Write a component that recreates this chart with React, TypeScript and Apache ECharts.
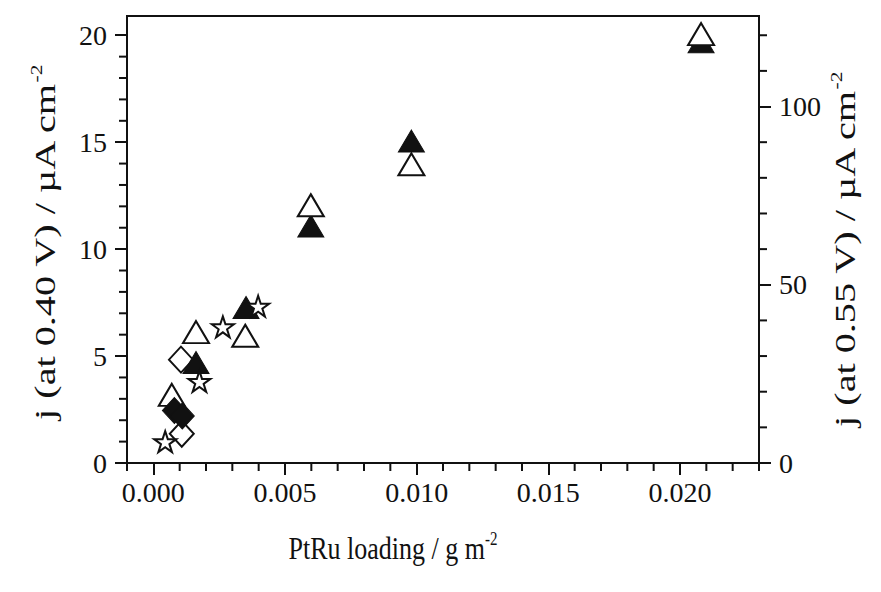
import React, { useEffect, useRef } from "react";
import * as echarts from "echarts";

// PtRu loading (g m^-2) and current densities
const filledTriangleLoading = [0.00162, 0.00352, 0.00598, 0.0098, 0.0208];
const filledTriangleJ040 = [4.7, 7.27, 11.08, 15.05, 19.7];

const openTriangleLoading = [0.0007, 0.00162, 0.00349, 0.00598, 0.0098, 0.0208];
const openTriangleJ055 = [19.1, 36.7, 35.7, 72.3, 83.8, 120.3];

const openDiamondLoading = [0.00105, 0.00108];
const openDiamondJ055 = [29.0, 8.2];

const filledDiamondLoading = [0.0008, 0.0011];
const filledDiamondJ040 = [2.45, 2.2];

const starLoading = [0.00045, 0.00175, 0.00264, 0.00398];
const starJ055 = [6.0, 22.9, 38.2, 44.0];

// labelled major ticks
const xMajorTicks = [0, 0.005, 0.01, 0.015, 0.02];
const leftMajorTicks = [0, 5, 10, 15, 20];
const rightMajorTicks = [0, 50, 100];
// minor ticks
const xMinorTicks = [
  -0.001, 0.001, 0.002, 0.003, 0.004, 0.006, 0.007, 0.008, 0.009, 0.011, 0.012,
  0.013, 0.014, 0.016, 0.017, 0.018, 0.019, 0.021, 0.022, 0.023,
];
const leftMinorTicks = [1, 2, 3, 4, 6, 7, 8, 9, 11, 12, 13, 14, 16, 17, 18, 19];
const rightMinorTicks = [10, 20, 30, 40, 60, 70, 80, 90, 110, 120];

const FONT = "Liberation Serif";
const INK = "#111111";

const STAR =
  "path://M0,-1L0.2245,-0.309L0.951,-0.309L0.363,0.118L0.588,0.809L0,0.382L-0.588,0.809L-0.363,0.118L-0.951,-0.309L-0.2245,-0.309Z";

const pairs = (xs: number[], ys: number[]) => xs.map((x, i) => [x, ys[i]]);

export default function App() {
  const ref = useRef<HTMLDivElement>(null);
  useEffect(() => {
    if (!ref.current) return;
    const chart = echarts.init(ref.current, undefined, { renderer: "svg" });
    const X_MIN = -0.001;
    const X_MAX = 0.023;
    const L_MAX = 20.9;
    const R_MAX = 125.4;
    const MINOR_LEN = 8;
    const line = { show: true, onZero: false, lineStyle: { color: INK, width: 2 } };
    const tickLine = { color: INK, width: 2 };
    const labelStyle = { fontFamily: FONT, fontSize: 28, color: INK };
    const open = { color: "#ffffff", borderColor: INK, borderWidth: 2, opacity: 1 };
    const filled = { color: INK, borderColor: INK, borderWidth: 1, opacity: 1 };

    // minor tick marks, placed through the axes' own scales
    const minorTickSeries = (
      values: number[],
      yAxisIndex: number,
      side: "bottom" | "left" | "right"
    ) => ({
      type: "custom",
      xAxisIndex: 0,
      yAxisIndex,
      silent: true,
      clip: false,
      z: 10,
      data: values.map((v) => (side === "bottom" ? [v, 0] : [side === "left" ? X_MIN : X_MAX, v])),
      renderItem: (_params: any, api: any) => {
        const p = api.coord([api.value(0), api.value(1)]);
        let shape;
        if (side === "bottom") shape = { x1: p[0], y1: p[1], x2: p[0], y2: p[1] + MINOR_LEN };
        else if (side === "left") shape = { x1: p[0] - MINOR_LEN, y1: p[1], x2: p[0], y2: p[1] };
        else shape = { x1: p[0], y1: p[1], x2: p[0] + MINOR_LEN, y2: p[1] };
        return { type: "line", shape, style: { stroke: INK, lineWidth: 2 } };
      },
    });

    chart.setOption({
      animation: false,
      backgroundColor: "#ffffff",
      grid: { left: 127, right: 122, top: 16, bottom: 129, show: true, borderColor: INK, borderWidth: 2 },
      xAxis: {
        type: "value",
        min: X_MIN,
        max: X_MAX,
        position: "bottom",
        splitLine: { show: false },
        axisLine: line,
        axisTick: { show: true, customValues: xMajorTicks, length: 12, lineStyle: tickLine },
        axisLabel: {
          ...labelStyle,
          customValues: xMajorTicks,
          margin: 15,
          formatter: (v: number) => v.toFixed(3),
        },
      },
      yAxis: [
        {
          type: "value",
          min: 0,
          max: L_MAX,
          position: "left",
          splitLine: { show: false },
          axisLine: line,
          axisTick: { show: true, customValues: leftMajorTicks, length: 12, lineStyle: tickLine },
          axisLabel: { ...labelStyle, customValues: leftMajorTicks, margin: 20 },
        },
        {
          type: "value",
          min: 0,
          max: R_MAX,
          position: "right",
          splitLine: { show: false },
          axisLine: line,
          axisTick: { show: true, customValues: rightMajorTicks, length: 12, lineStyle: tickLine },
          axisLabel: { ...labelStyle, customValues: rightMajorTicks, margin: 20 },
        },
      ],
      graphic: [
        {
          type: "text",
          x: 393,
          y: 548,
          scaleY: 1.22,
          style: {
            text: "{a|PtRu loading / g m}{s|-2}",
            align: "center",
            verticalAlign: "middle",
            fill: INK,
            rich: {
              a: { fontFamily: FONT, fontSize: 26, fill: INK, lineHeight: 30 },
              s: { fontFamily: FONT, fontSize: 15, fill: INK, verticalAlign: "top" },
            },
          },
        },
        {
          type: "text",
          x: 45,
          y: 243,
          rotation: Math.PI / 2,
          scaleX: 1.34,
          style: {
            text: "{a|j (at 0.40 V) / \u00b5A cm}{s|-2}",
            align: "center",
            verticalAlign: "middle",
            fill: INK,
            rich: {
              a: { fontFamily: FONT, fontSize: 30, fill: INK, lineHeight: 34 },
              s: { fontFamily: FONT, fontSize: 16, fill: INK, verticalAlign: "top" },
            },
          },
        },
        {
          type: "text",
          x: 845,
          y: 250,
          rotation: Math.PI / 2,
          scaleX: 1.34,
          style: {
            text: "{a|j (at 0.55 V) / \u00b5A cm}{s|-2}",
            align: "center",
            verticalAlign: "middle",
            fill: INK,
            rich: {
              a: { fontFamily: FONT, fontSize: 30, fill: INK, lineHeight: 34 },
              s: { fontFamily: FONT, fontSize: 16, fill: INK, verticalAlign: "top" },
            },
          },
        },
      ],
      series: [
        minorTickSeries(xMinorTicks, 0, "bottom"),
        minorTickSeries(leftMinorTicks, 0, "left"),
        minorTickSeries(rightMinorTicks, 1, "right"),
        {
          name: "open diamond",
          type: "scatter",
          yAxisIndex: 1,
          symbol: "diamond",
          symbolSize: [24, 26],
          itemStyle: open,
          data: pairs(openDiamondLoading, openDiamondJ055),
        },
        {
          name: "filled triangle",
          type: "scatter",
          yAxisIndex: 0,
          symbol: "triangle",
          symbolSize: [26, 22],
          itemStyle: filled,
          data: pairs(filledTriangleLoading, filledTriangleJ040),
        },
        {
          name: "open triangle",
          type: "scatter",
          yAxisIndex: 1,
          symbol: "triangle",
          symbolSize: [26, 22],
          itemStyle: open,
          data: pairs(openTriangleLoading, openTriangleJ055),
        },
        {
          name: "filled diamond",
          type: "scatter",
          yAxisIndex: 0,
          symbol: "diamond",
          symbolSize: [24, 26],
          itemStyle: filled,
          data: pairs(filledDiamondLoading, filledDiamondJ040),
        },
        {
          name: "open star",
          type: "scatter",
          yAxisIndex: 1,
          symbol: STAR,
          symbolKeepAspect: true,
          symbolSize: 22,
          itemStyle: open,
          data: pairs(starLoading, starJ055),
        },
      ],
    });
    return () => chart.dispose();
  }, []);
  return (
    <div
      ref={ref}
      style={{ position: "fixed", left: 0, top: 0, width: 881, height: 592, background: "#fff" }}
    />
  );
}
